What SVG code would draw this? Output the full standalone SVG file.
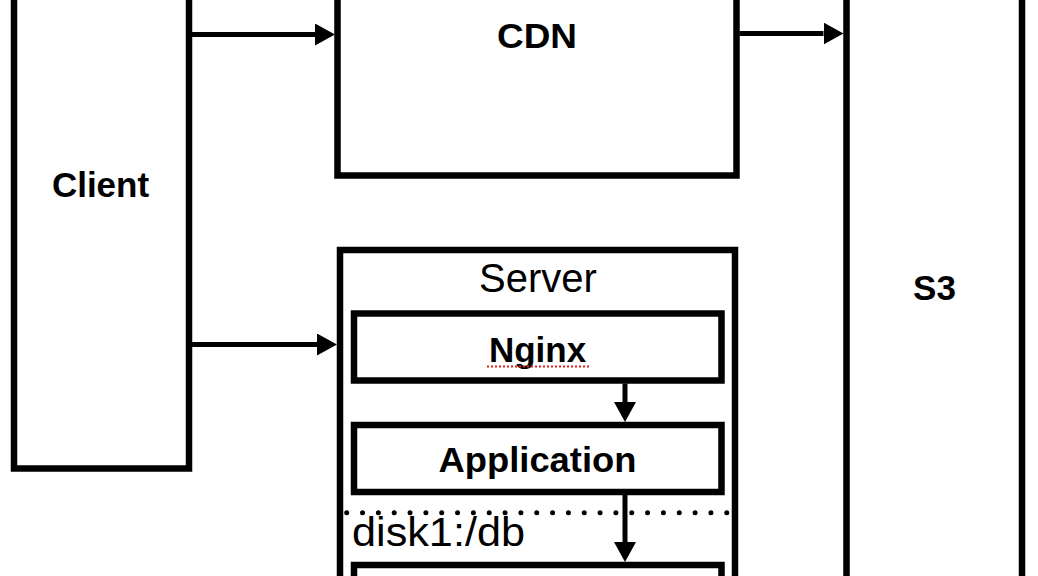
<svg xmlns="http://www.w3.org/2000/svg" width="1038" height="576" viewBox="0 0 1038 576">
  <style>
    .box { fill: none; stroke: #000; stroke-width: 6.5; }
    .lbl { font-family: "Liberation Sans", Arial, Helvetica, sans-serif; font-weight: bold; font-size: 35px; fill: #000; text-anchor: middle; }
    .reg { font-family: "Liberation Sans", Arial, Helvetica, sans-serif; font-weight: normal; font-size: 40px; fill: #000; }
    .conn { fill: none; stroke: #000; stroke-width: 5; }
  </style>
  <defs>
    <marker id="arrow" viewBox="0 0 20 22" refX="0" refY="11" markerWidth="20" markerHeight="22" markerUnits="userSpaceOnUse" orient="auto">
      <path d="M0,0 L20,11 L0,22 Z" fill="#000"/>
    </marker>
  </defs>
  <rect width="1038" height="576" fill="#fff"/>

  <g id="client">
    <rect class="box" x="14" y="-20" width="175" height="488.5"/>
    <text class="lbl" x="100.5" y="197">Client</text>
  </g>

  <g id="cdn">
    <rect class="box" x="337.5" y="-20" width="399" height="195.5"/>
    <text class="lbl" x="537" y="47.5" textLength="80" lengthAdjust="spacingAndGlyphs">CDN</text>
  </g>

  <g id="s3">
    <rect class="box" x="846.5" y="-20" width="175.5" height="620"/>
    <text class="lbl" x="934.5" y="299.5">S3</text>
  </g>

  <g id="server">
    <rect class="box" x="340" y="250" width="395" height="350"/>
    <text class="reg" x="538" y="291.5" text-anchor="middle">Server</text>
  </g>

  <g id="nginx">
    <rect class="box" x="354" y="313.5" width="367.5" height="67"/>
    <text class="lbl" x="537.5" y="361.5">Nginx</text>
    <line x1="487" y1="366.5" x2="589" y2="366.5" stroke="#e0201c" stroke-width="2" stroke-dasharray="2 2"/>
  </g>

  <g id="application">
    <rect class="box" x="354" y="425" width="367.5" height="67"/>
    <text class="lbl" x="537.5" y="471.5" textLength="198" lengthAdjust="spacingAndGlyphs">Application</text>
  </g>

  <g id="disk">
    <line x1="346.7" y1="512.8" x2="726.8" y2="512.8" stroke="#000" stroke-width="5" stroke-linecap="round" stroke-dasharray="0 15.836"/>
    <text class="reg" x="352" y="546" textLength="173" lengthAdjust="spacingAndGlyphs">disk1:/db</text>
  </g>

  <g id="db">
    <rect class="box" x="354" y="565" width="367.5" height="67"/>
  </g>

  <g id="connectors">
    <line class="conn" x1="192" y1="34.5" x2="315" y2="34.5" marker-end="url(#arrow)"/>
    <line class="conn" x1="739.5" y1="33.5" x2="823.5" y2="33.5" marker-end="url(#arrow)"/>
    <line class="conn" x1="192" y1="344.5" x2="317" y2="344.5" marker-end="url(#arrow)"/>
    <line class="conn" x1="625" y1="383.5" x2="625" y2="402" marker-end="url(#arrow)"/>
    <line class="conn" x1="625" y1="495" x2="625" y2="542" marker-end="url(#arrow)"/>
  </g>
</svg>
